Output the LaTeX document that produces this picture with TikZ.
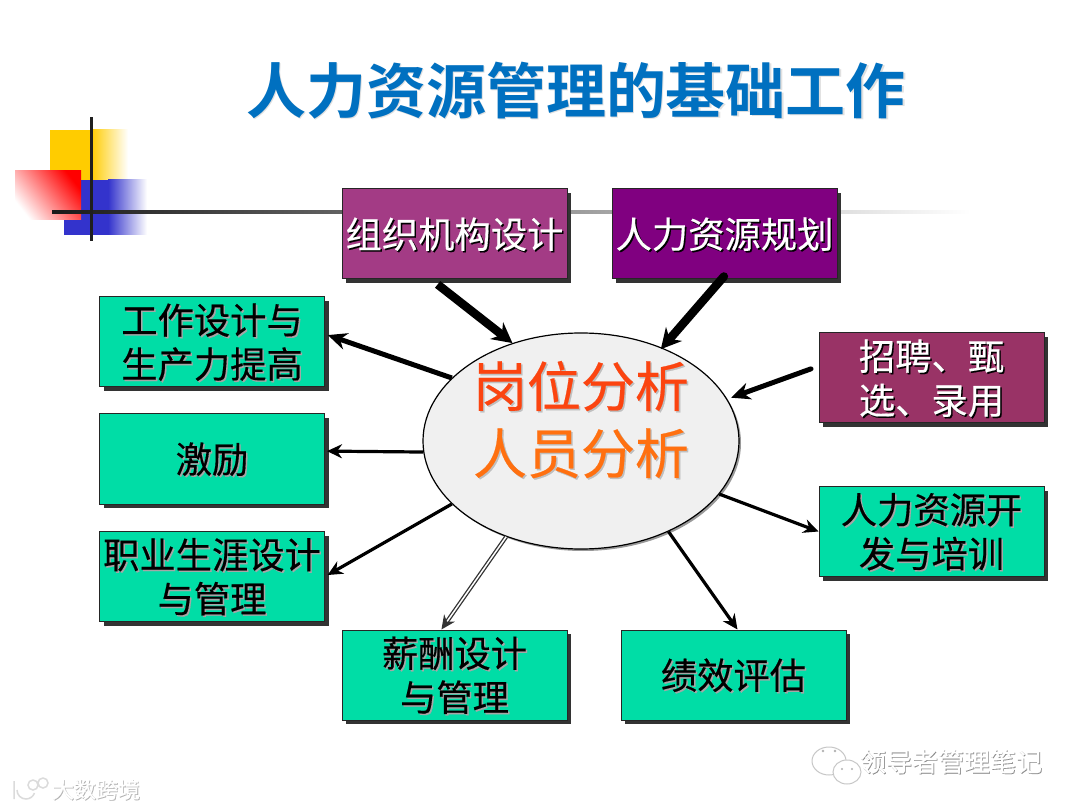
\documentclass[tikz,border=0pt]{standalone}
\usepackage{fontspec}
\setmainfont[FakeBold=0.4]{Noto Sans CJK SC}
\newfontfamily\cjkbold{Noto Sans CJK SC Bold}
\usetikzlibrary{arrows.meta,shapes.geometric,shadows}
\definecolor{boxgreen}{HTML}{00DDA6}
\definecolor{boxplum}{HTML}{A33B85}
\definecolor{boxpurple}{HTML}{800080}
\definecolor{boxwine}{HTML}{993366}
\definecolor{titleblue}{HTML}{0070C0}
\definecolor{coretop}{HTML}{FB4410}
\definecolor{corelow}{HTML}{FF7010}
\definecolor{decoyellow}{HTML}{FFCC00}
\definecolor{decoblue}{HTML}{3333CC}
\newcommand{\shtxt}[5]{\leavevmode\rlap{\kern#4\raisebox{-#5}{\textcolor{#2}{#3}}}\textcolor{#1}{#3}}
\newcommand{\blk}[1]{\raisebox{-1pt}[\height][\depth]{\shtxt{black}{black!35}{#1}{1.5pt}{1.5pt}}}
\newcommand{\wht}[1]{\raisebox{-1pt}[\height][\depth]{\shtxt{white}{black}{#1}{1.5pt}{1.5pt}}}
\tikzset{
  basebox/.style={rectangle,minimum width=225pt,minimum height=90pt,inner sep=0pt,draw=black!85,line width=1pt,
    align=center,font=\fontsize{36.3}{44}\selectfont,
    drop shadow={shadow xshift=4pt,shadow yshift=-4pt,fill=black!80,opacity=1}},
  greenbox/.style={basebox,fill=boxgreen},
  plumbox/.style={basebox,fill=boxplum},
  purplebox/.style={basebox,fill=boxpurple},
  winebox/.style={basebox,fill=boxwine},
  heavy/.style={line width=8.5pt,draw=black,-{Stealth[length=20pt,width=21pt]}},
  medium/.style={line width=5pt,draw=black,-{Stealth[length=19pt,width=17pt]}},
  light/.style={line width=3.2pt,draw=black,-{Stealth[length=15pt,width=14pt]}},
  twin/.style={line width=1.3pt,double=white,double distance=1.5pt,draw=black!80,-{Stealth[length=14pt,width=13pt]}},
  wm/.style={font=\fontsize{26}{30}\selectfont,inner sep=0pt},
}
\begin{document}
\begin{tikzpicture}[x=1pt,y=-1pt]
\useasboundingbox (0,0) rectangle (1080,810);
\fill[white] (0,0) rectangle (1080,810);
% decoration
\fill[decoyellow] (50,130) rectangle (91,180);
\shade[left color=decoyellow,right color=white] (91,130) rectangle (128,180);
\fill[decoblue] (64,180) rectangle (108,235);
\shade[left color=decoblue,right color=white] (108,180) rectangle (147,235);
\shade[bottom color=white,middle color=red!32!white,top color=red,shading angle=-52] (15,171) rectangle (81,220);
\shade[left color=black!90,right color=white] (52,211) rectangle (970,214);
\fill[black!88] (89.5,117) rectangle (93,241);
% title
\node[inner sep=0pt] (title) at (576,91) {\cjkbold\fontsize{60}{66}\selectfont\shtxt{titleblue}{black!12}{人力资源管理的基础工作}{1.5pt}{1.5pt}};
% boxes
\node[plumbox] (org) at (454.5,234) {\wht{组织机构设计}};
\node[purplebox] (plan) at (724.5,234) {\wht{人力资源规划}};
\node[greenbox] (job) at (212,342) {\blk{工作设计与}\\\blk{生产力提高}};
\node[greenbox] (moti) at (212,459) {\blk{激励}};
\node[greenbox] (career) at (212,576.5) {\blk{职业生涯设计}\\\blk{与管理}};
\node[greenbox] (pay) at (454.5,675) {\blk{薪酬设计}\\\blk{与管理}};
\node[greenbox] (perf) at (733.5,675) {\blk{绩效评估}};
\node[winebox] (recruit) at (931.5,378) {\wht{招聘、甄}\\\wht{选、录用}};
\node[greenbox] (train) at (931.5,531.5) {\blk{人力资源开}\\\blk{发与培训}};
% core
\node[ellipse,minimum width=316pt,minimum height=216pt,inner sep=0pt,fill=black!6,draw=black,line width=1.2pt,
  font=\fontsize{54}{67}\selectfont,
  drop shadow={shadow xshift=2pt,shadow yshift=-2pt,fill=black!40,opacity=1}] (core) at (581,441)
  {\raisebox{8pt}[0pt][0pt]{\begin{tabular}{@{}c@{}}\shtxt{coretop}{black!25}{岗位分析}{1.5pt}{1.5pt}\\\shtxt{corelow}{black!25}{人员分析}{1.5pt}{1.5pt}\end{tabular}}};
% connectors
\draw[heavy,shorten <=8pt] (org.-117) -- (core.125);
\draw[heavy,shorten <=-4pt,shorten >=-2pt,line cap=round] (plan.-94) -- (core.49.6);
\draw[medium,shorten <=8pt,shorten >=4pt,line cap=round] (recruit.174.6) -- (core.16.5);
\draw[medium,shorten >=3pt] (core.154.8) -- (job.4.6);
\draw[light,shorten >=2pt] (core.184.5) -- (moti.4);
\draw[light,shorten >=3pt] (core.206) -- (career.0.8);
\draw[twin] (core.232.5) -- (pay.106.7);
\draw[light] (core.-46.3) -- (perf.85.6);
\draw[light] (core.-21) -- (train.180);
% watermarks
\begin{scope}[draw=black!22,line width=1pt,fill=white]
\filldraw (829,761) ellipse (17pt and 14pt);
\filldraw (847,772) ellipse (14pt and 12pt);
\fill[black!30] (823,751) circle (1.3pt) (835,751) circle (1.3pt) (842,769) circle (1.2pt) (852,769) circle (1.2pt);
\end{scope}
\node[wm] (wechat) at (951,762) {\shtxt{white}{black!45}{领导者管理笔记}{.8pt}{.8pt}};
\begin{scope}[draw=black!14,line width=1.5pt]
\draw (14,781) -- (14,799) (17,790) arc (180:340:9pt);
\draw (33,785) circle (5pt) (43,783) circle (5pt);
\end{scope}
\node[wm,font=\fontsize{22}{26}\selectfont] (bigdata) at (96,790) {\shtxt{white}{black!30}{大数跨境}{.8pt}{.8pt}};
\end{tikzpicture}
\end{document}
